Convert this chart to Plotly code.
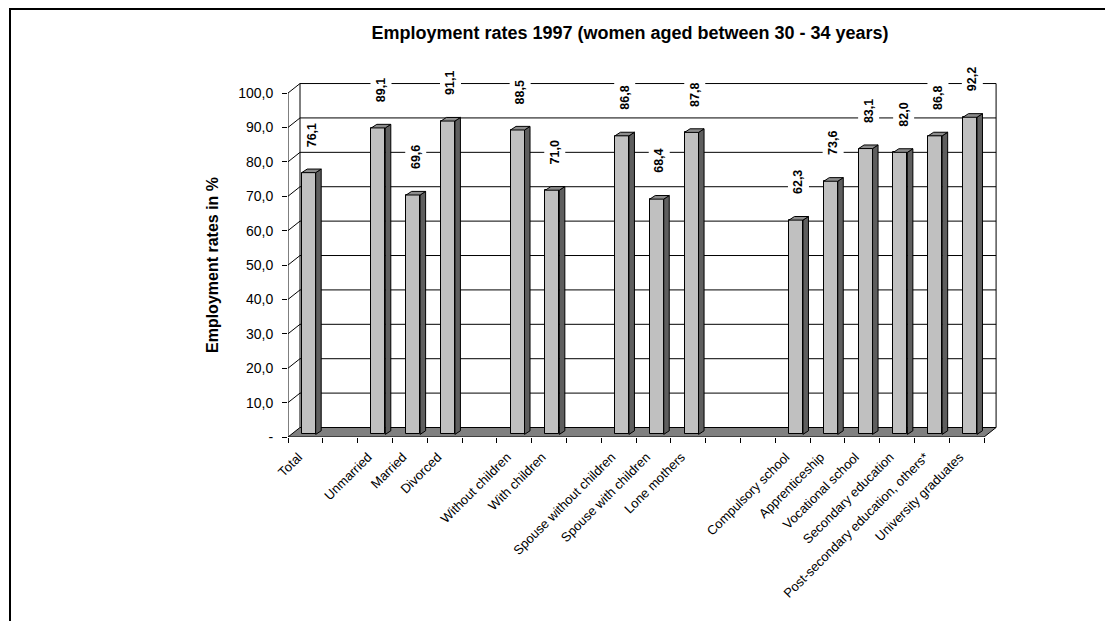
import plotly.graph_objects as go

# ---------------- data ----------------
categories = ["Total", "", "Unmarried", "Married", "Divorced", "",
              "Without children", "With children", "",
              "Spouse without children", "Spouse with children", "Lone mothers",
              "", "", "Compulsory school", "Apprenticeship", "Vocational school",
              "Secondary education", "Post-secondary education, others*",
              "University graduates"]
values = [76.1, None, 89.1, 69.6, 91.1, None, 88.5, 71.0, None,
          86.8, 68.4, 87.8, None, None, 62.3, 73.6, 83.1, 82.0, 86.8, 92.2]
y_tick_values = [0, 10, 20, 30, 40, 50, 60, 70, 80, 90, 100]
y_tick_labels = ["-", "10,0", "20,0", "30,0", "40,0", "50,0", "60,0",
                 "70,0", "80,0", "90,0", "100,0"]
title_text = "Employment rates 1997 (women aged between 30 - 34 years)"
y_title = "Employment rates in %"

# ---------------- geometry / style ----------------
W, H = 1105, 621
ML, MR, MT, MB = 288, 107, 81, 184
N = len(categories)
XMAX, YMAX = 20.4, 103.5
PW, PH = W - ML - MR, H - MT - MB
PXC = PW / XMAX                     # px per category
PXU = PH / YMAX                     # px per value unit
DX, DY = 12 / PXC, 9.5 / PXU        # depth of the 3D box
FX, FY = 3.3 / PXC, 2.6 / PXU       # bar front-face depth offset
SX, SY = 5.5 / PXC, 3.6 / PXU       # bar thickness (depth)
BW = 14 / PXC                       # bar front width
LABEL_OFFSET = 11.0                 # value units between bar top and label centre
TICK_SHIFT = -0.2                   # category label anchor shift
FONT = "Arial, Liberation Sans, sans-serif"
C_FRONT, C_SIDE, C_TOP, C_FLOOR = "#C0C0C0", "#5E5E5E", "#8C8C8C", "#808080"

xs = [i + 0.5 + FX for i, v in enumerate(values) if v is not None]
vs = [v for v in values if v is not None]

fig = go.Figure()

# front faces
fig.add_trace(go.Bar(x=xs, y=vs, base=FY, width=BW,
                     marker=dict(color=C_FRONT, line=dict(color="black", width=1)),
                     hoverinfo="skip", showlegend=False))

# side faces and top faces as polygons
sx_, sy_, tx_, ty_ = [], [], [], []
for x, v in zip(xs, vs):
    xl, xr = x - BW / 2, x + BW / 2
    b, t = FY, FY + v
    sx_ += [xr, xr + SX, xr + SX, xr, xr, None]
    sy_ += [b, b + SY, t + SY, t, b, None]
    tx_ += [xl, xr, xr + SX, xl + SX, xl, None]
    ty_ += [t, t, t + SY, t + SY, t, None]
fig.add_trace(go.Scatter(x=sx_, y=sy_, mode="lines", fill="toself",
                         fillcolor=C_SIDE, line=dict(color="black", width=1),
                         hoverinfo="skip", showlegend=False))
fig.add_trace(go.Scatter(x=tx_, y=ty_, mode="lines", fill="toself",
                         fillcolor=C_TOP, line=dict(color="black", width=1),
                         hoverinfo="skip", showlegend=False))

shapes = []
ln = dict(color="black", width=1)
# back-wall gridlines + diagonals from front axis
for yv in y_tick_values[1:]:
    shapes.append(dict(type="line", xref="x", yref="y", x0=DX, x1=N + DX,
                       y0=yv + DY, y1=yv + DY, line=ln, layer="below"))
    shapes.append(dict(type="line", xref="x", yref="y", x0=0, x1=DX,
                       y0=yv, y1=yv + DY, line=ln, layer="below"))
# back wall verticals
for xv in (DX, N + DX):
    shapes.append(dict(type="line", xref="x", yref="y", x0=xv, x1=xv,
                       y0=DY, y1=100 + DY, line=ln, layer="below"))
# front axis line
shapes.append(dict(type="line", xref="x", yref="y", x0=0, x1=0, y0=0, y1=100,
                   line=ln, layer="below"))
# floor
shapes.append(dict(type="path", xref="x", yref="y",
                   path=f"M 0,0 L {N},0 L {N + DX},{DY} L {DX},{DY} Z",
                   fillcolor=C_FLOOR, line=ln, layer="below"))
# outer chart border
shapes.append(dict(type="rect", xref="paper", yref="paper",
                   x0=(10 - ML) / PW, x1=(1120 - ML) / PW,
                   y0=(H - MB - 640) / PH, y1=(H - MB - 9) / PH,
                   line=dict(color="black", width=2), fillcolor="rgba(0,0,0,0)"))

annotations = []
for x, v in zip(xs, vs):
    annotations.append(dict(x=(x + 0.08) / XMAX, y=(v + FY + LABEL_OFFSET) / YMAX,
                            xref="paper", yref="paper",
                            xanchor="center", yanchor="middle",
                            text=f"<b>{v:.1f}</b>".replace(".", ","),
                            textangle=-90, showarrow=False, bgcolor="white",
                            borderpad=3,
                            font=dict(family=FONT, size=12.5, color="black")))
annotations.append(dict(x=(212 - ML) / PW, y=(H - MB - 265) / PH,
                        xref="paper", yref="paper",
                        xanchor="center", yanchor="middle",
                        text=f"<b>{y_title}</b>",
                        textangle=-90, showarrow=False,
                        font=dict(family=FONT, size=16, color="black")))

fig.update_layout(
    width=W, height=H,
    margin=dict(l=ML, r=MR, t=MT, b=MB, pad=0),
    paper_bgcolor="white", plot_bgcolor="white",
    title=dict(text=f"<b>{title_text}</b>", x=630 / W, xref="container",
               y=1 - 33 / H, yref="container", xanchor="center", yanchor="middle",
               font=dict(family=FONT, size=18, color="black")),
    shapes=shapes, annotations=annotations,
    bargap=0, showlegend=False,
    xaxis=dict(range=[0, XMAX], tickmode="array",
               tickvals=[i + 0.5 + TICK_SHIFT for i in range(N)], ticktext=categories,
               tickangle=-45, ticks="", showgrid=False, zeroline=False,
               showline=False, ticklabelstandoff=9,
               tickfont=dict(family=FONT, size=13, color="black"),
               minor=dict(tickmode="array", tickvals=list(range(N + 1)),
                          ticks="outside", ticklen=5, tickcolor="black",
                          tickwidth=1, showgrid=False)),
    yaxis=dict(range=[0, YMAX], tickmode="array", tickvals=y_tick_values,
               ticktext=y_tick_labels, ticks="outside", ticklen=5,
               tickcolor="black", showgrid=False, zeroline=False, showline=False,
               ticklabelstandoff=6,
               tickfont=dict(family=FONT, size=14, color="black")),
)

fig.write_html("out.html")
